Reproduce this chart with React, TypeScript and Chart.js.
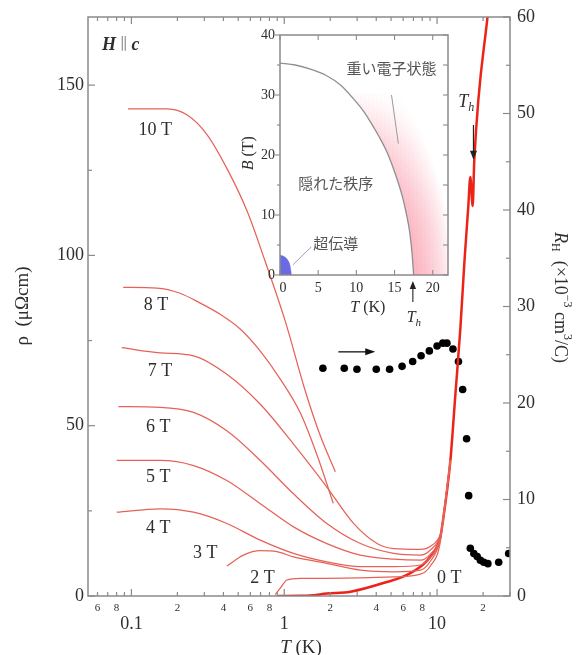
import React, { useEffect, useRef } from 'react';
import { Chart, registerables } from 'chart.js';
Chart.register(...registerables);

// ---------- data ----------
const T0 = [0.9, 1.3, 1.48, 1.9, 2.71, 4.45, 6.69, 9.04, 10.5, 10.78, 12.22, 13.18, 14.21, 15.1, 16.0, 16.5, 17.1, 17.5, 21.3, 22.0];
const rho0 = [0, 0.05, 0.15, 0.7, 1.26, 3.8, 6.7, 11.5, 17.3, 20.3, 39.8, 59.3, 78.7, 98.2, 114.3, 123.0, 114.5, 127.5, 169.4, 174.3];

const T2 = [0.873, 0.942, 1.04, 1.27, 1.9, 3.15, 5.2, 7.78, 9.04, 10.5, 10.78, 12.22];
const rho2 = [0.4, 2.3, 4.7, 5.2, 5.2, 5.3, 5.6, 6.4, 8.8, 15.8, 20.3, 39.8];

const T3 = [0.421, 0.541, 0.697, 0.896, 1.15, 1.9, 3.15, 5.2, 7.78, 9.04, 10.5, 10.78, 12.22];
const rho3 = [8.8, 12.0, 13.3, 13.0, 11.5, 9.6, 7.6, 7.1, 7.6, 10.2, 16.7, 20.3, 39.8];

const T4 = [0.0802, 0.154, 0.255, 0.421, 0.697, 1.15, 1.9, 3.15, 5.2, 7.78, 9.04, 10.5, 10.78, 12.22];
const rho4 = [24.6, 25.6, 24.6, 21.3, 16.4, 12.5, 10.0, 8.6, 8.6, 9.1, 11.4, 17.0, 20.3, 39.8];

const T5 = [0.0802, 0.154, 0.255, 0.421, 0.697, 1.15, 1.9, 3.15, 5.2, 7.78, 9.04, 10.5, 10.78, 12.22];
const rho5 = [39.8, 39.8, 38.3, 33.9, 27.1, 20.3, 15.4, 12.0, 10.8, 10.5, 12.3, 17.3, 20.3, 39.8];

const T6 = [0.0822, 0.154, 0.255, 0.421, 0.697, 1.15, 1.9, 3.15, 5.2, 7.78, 9.04, 10.5, 10.78, 12.22];
const rho6 = [55.6, 55.4, 53.9, 48.5, 39.8, 30.0, 21.3, 15.4, 12.5, 12.0, 13.5, 17.8, 20.3, 39.8];

const T7 = [0.0865, 0.154, 0.255, 0.421, 0.697, 1.15, 1.9, 2.84, 4.05, 5.2, 7.78, 9.04, 10.5, 10.78, 12.22];
const rho7 = [72.9, 71.4, 70.5, 65.1, 56.3, 44.6, 32.0, 21.3, 15.4, 13.9, 13.7, 14.6, 18.1, 20.3, 39.8];

const T8 = [0.0883, 0.147, 0.208, 0.282, 0.381, 0.515, 0.697, 0.942, 1.273, 1.645, 2.094];
const rho8 = [90.6, 90.4, 88.9, 86.0, 82.7, 78.4, 71.9, 63.7, 53.8, 41.2, 27.2];

const T10 = [0.095, 0.171, 0.232, 0.313, 0.423, 0.573, 0.751, 1.015, 1.373, 1.72, 2.158];
const rho10 = [143.0, 143.0, 141.2, 135.4, 125.4, 112.9, 98.2, 80.7, 60.2, 47.1, 36.5];

const TH = [1.79, 2.47, 2.99, 4.0, 4.89, 5.9, 6.92, 7.86, 8.9, 10.0, 10.9, 11.6, 12.7, 13.8, 14.7, 15.6, 16.1, 16.5, 17.4, 18.3, 19.2, 20.2, 21.5, 25.3, 29.4];
const RH = [23.6, 23.6, 23.5, 23.5, 23.5, 23.8, 24.3, 24.9, 25.4, 25.9, 26.2, 26.2, 25.6, 24.3, 21.4, 16.3, 10.4, 4.95, 4.4, 4.1, 3.7, 3.5, 3.35, 3.5, 4.4];

const fieldNames = ['0 T', '2 T', '3 T', '4 T', '5 T', '6 T', '7 T', '8 T', '10 T'];
const fieldLabelT = [12.0, 0.72, 0.304, 0.15, 0.15, 0.15, 0.154, 0.145, 0.143];
const fieldLabelRho = [5.3, 5.3, 12.6, 19.9, 34.8, 49.4, 66.1, 85.4, 136.8];

// ticks
const xMajorTicks = [0.1, 1, 10];
const xMajorLabels = ['0.1', '1', '10'];
const xMinorTicks = [0.06, 0.07, 0.08, 0.09, 0.2, 0.3, 0.4, 0.5, 0.6, 0.7, 0.8, 0.9, 2, 3, 4, 5, 6, 7, 8, 9, 20, 30];
const xMinorLabelVals = [0.06, 0.08, 0.2, 0.4, 0.6, 0.8, 2, 4, 6, 8, 20];
const xMinorLabels = ['6', '8', '2', '4', '6', '8', '2', '4', '6', '8', '2'];
const rhoMajorTicks = [0, 50, 100, 150];
const rhoMinorTicks = [25, 75, 125];
const rhMajorTicks = [0, 10, 20, 30, 40, 50, 60];
const rhMinorTicks = [5, 15, 25, 35, 45, 55];

// inset phase diagram
const insetT = [0, 2, 4, 6, 8, 10, 11, 12, 13, 14, 15, 16, 16.5, 17, 17.3, 17.5];
const insetB = [35.3, 35.0, 34.3, 33.3, 31.6, 28.8, 27.2, 25.2, 23.0, 20.5, 17.2, 13.2, 10.5, 7.0, 3.5, 0];
const scT = [0, 0.5, 1.0, 1.3, 1.5];
const scB = [3.3, 3.1, 2.5, 1.6, 0];
const insetXTicks = [0, 5, 10, 15, 20];
const insetYTicks = [0, 10, 20, 30, 40];
const insetYMinor = [5, 15, 25, 35];

// ---------- styles ----------
const SERIF = '"Liberation Serif", "DejaVu Serif", serif';
const CJK = '"Noto Sans CJK JP", "Noto Sans CJK SC", sans-serif';
const AXIS = '#8a8a8a';
const TEXT = '#2e2e2e';
const FIELD_RED = 'rgb(230,98,88)';
const ZERO_RED = 'rgb(236,36,24)';

type Part = { t: string; f: string; dy?: number; c?: string };
function rich(ctx: CanvasRenderingContext2D, parts: Part[], x: number, y: number, align = 'center') {
  let w = 0;
  for (const p of parts) { ctx.font = p.f; w += ctx.measureText(p.t).width; }
  let cx = align === 'center' ? x - w / 2 : align === 'right' ? x - w : x;
  ctx.textAlign = 'left';
  ctx.textBaseline = 'middle';
  for (const p of parts) {
    ctx.font = p.f;
    ctx.fillStyle = p.c || TEXT;
    ctx.fillText(p.t, cx, y + (p.dy || 0));
    cx += ctx.measureText(p.t).width;
  }
}

function seg(ctx: CanvasRenderingContext2D, x1: number, y1: number, x2: number, y2: number) {
  ctx.beginPath(); ctx.moveTo(x1, y1); ctx.lineTo(x2, y2); ctx.stroke();
}

function arrow(ctx: CanvasRenderingContext2D, x1: number, y1: number, x2: number, y2: number, head = 8, hw = 3.5) {
  const a = Math.atan2(y2 - y1, x2 - x1);
  seg(ctx, x1, y1, x2 - Math.cos(a) * head * 0.6, y2 - Math.sin(a) * head * 0.6);
  ctx.beginPath();
  ctx.moveTo(x2, y2);
  ctx.lineTo(x2 - Math.cos(a) * head - Math.sin(a) * hw, y2 - Math.sin(a) * head + Math.cos(a) * hw);
  ctx.lineTo(x2 - Math.cos(a) * head + Math.sin(a) * hw, y2 - Math.sin(a) * head - Math.cos(a) * hw);
  ctx.closePath();
  ctx.fill();
}

const pts = (xs: number[], ys: number[]) => xs.map((x, i) => ({ x, y: ys[i] }));

const mainDecor = {
  id: 'mainDecor',
  afterDraw(chart: any) {
    const ctx: CanvasRenderingContext2D = chart.ctx;
    const xs = chart.scales.x, ys = chart.scales.y, yr = chart.scales.y2;
    const { left, right, top, bottom } = chart.chartArea;
    ctx.save();
    ctx.strokeStyle = AXIS;
    ctx.lineWidth = 1.5;
    ctx.strokeRect(left, top, right - left, bottom - top);
    ctx.lineWidth = 1.2;
    xMajorTicks.forEach(v => { const p = xs.getPixelForValue(v); seg(ctx, p, bottom, p, bottom - 7); seg(ctx, p, top, p, top + 7); });
    xMinorTicks.forEach(v => { const p = xs.getPixelForValue(v); seg(ctx, p, bottom, p, bottom - 4); seg(ctx, p, top, p, top + 4); });
    rhoMajorTicks.forEach(v => { const p = ys.getPixelForValue(v); seg(ctx, left, p, left + 7, p); });
    rhoMinorTicks.forEach(v => { const p = ys.getPixelForValue(v); seg(ctx, left, p, left + 4, p); });
    rhMajorTicks.forEach(v => { const p = yr.getPixelForValue(v); seg(ctx, right, p, right - 7, p); });
    rhMinorTicks.forEach(v => { const p = yr.getPixelForValue(v); seg(ctx, right, p, right - 4, p); });

    // tick labels
    ctx.fillStyle = TEXT;
    ctx.textBaseline = 'middle';
    ctx.font = `18px ${SERIF}`;
    ctx.textAlign = 'right';
    rhoMajorTicks.forEach(v => ctx.fillText(String(v), left - 4, ys.getPixelForValue(v)));
    ctx.textAlign = 'left';
    rhMajorTicks.forEach(v => ctx.fillText(String(v), right + 7, yr.getPixelForValue(v)));
    ctx.textAlign = 'center';
    xMajorTicks.forEach((v, i) => ctx.fillText(xMajorLabels[i], xs.getPixelForValue(v), bottom + 28));
    ctx.font = `11px ${SERIF}`;
    xMinorLabelVals.forEach((v, i) => ctx.fillText(xMinorLabels[i], xs.getPixelForValue(v), bottom + 12));

    // axis titles
    rich(ctx, [{ t: 'T', f: `italic 19px ${SERIF}` }, { t: ' (K)', f: `19px ${SERIF}` }], (left + right) / 2 + 2, bottom + 52);
    ctx.save();
    ctx.translate(23, 306);
    ctx.rotate(-Math.PI / 2);
    rich(ctx, [{ t: 'ρ  (μΩcm)', f: `19px ${SERIF}` }], 0, 0);
    ctx.restore();
    ctx.save();
    ctx.translate(560, 232);
    ctx.rotate(Math.PI / 2);
    rich(ctx, [
      { t: 'R', f: `italic 18px ${SERIF}` },
      { t: 'H', f: `12px ${SERIF}`, dy: 5 },
      { t: '  (×10', f: `18px ${SERIF}` },
      { t: '−3', f: `12px ${SERIF}`, dy: -7 },
      { t: ' cm', f: `18px ${SERIF}` },
      { t: '3', f: `12px ${SERIF}`, dy: -7 },
      { t: '/C)', f: `18px ${SERIF}` },
    ], 0, 0, 'left');
    ctx.restore();

    // H || c
    rich(ctx, [
      { t: 'H', f: `bold italic 18px ${SERIF}` },
      { t: ' ∥ ', f: `16px ${SERIF}`, c: '#999' },
      { t: 'c', f: `bold italic 18px ${SERIF}` },
    ], 102, ys.getPixelForValue(161.7), 'left');

    // field labels
    fieldNames.forEach((n, i) => {
      rich(ctx, [{ t: n, f: `18px ${SERIF}` }], xs.getPixelForValue(fieldLabelT[i]), ys.getPixelForValue(fieldLabelRho[i]));
    });

    // T_h arrow and label
    ctx.strokeStyle = '#222';
    ctx.fillStyle = '#222';
    ctx.lineWidth = 1.2;
    const thx = xs.getPixelForValue(17.3);
    arrow(ctx, thx, ys.getPixelForValue(138.3), thx, ys.getPixelForValue(128.1), 9, 3.5);
    rich(ctx, [
      { t: 'T', f: `italic 18px ${SERIF}` },
      { t: 'h', f: `italic 12px ${SERIF}`, dy: 6 },
    ], xs.getPixelForValue(15.5), ys.getPixelForValue(145.0), 'center');

    // R_H arrow
    ctx.strokeStyle = '#111';
    ctx.fillStyle = '#111';
    ctx.lineWidth = 1.3;
    arrow(ctx, xs.getPixelForValue(2.26), yr.getPixelForValue(25.3), xs.getPixelForValue(3.94), yr.getPixelForValue(25.3), 10, 3.5);
    ctx.restore();
  },
};

const insetDecor = {
  id: 'insetDecor',
  beforeDatasetsDraw(chart: any) {
    const ctx: CanvasRenderingContext2D = chart.ctx;
    const ys = chart.scales.y;
    const { left, right, top, bottom } = chart.chartArea;
    const meta = chart.getDatasetMeta(0);
    const p = meta.data.map((e: any) => ({ x: e.x, y: e.y }));
    ctx.save();
    ctx.fillStyle = '#ffffff';
    ctx.fillRect(left, top, right - left, bottom - top);
    ctx.beginPath();
    ctx.moveTo(p[0].x, p[0].y);
    p.forEach((q: any) => ctx.lineTo(q.x, q.y));
    ctx.lineTo(right, bottom);
    ctx.lineTo(right, top);
    ctx.lineTo(left, top);
    ctx.closePath();
    ctx.clip();
    const g = ctx.createLinearGradient(0, ys.getPixelForValue(31), 0, bottom);
    g.addColorStop(0, 'rgba(245,130,150,0)');
    g.addColorStop(0.3, 'rgba(245,130,150,0.24)');
    g.addColorStop(0.7, 'rgba(245,130,150,0.45)');
    g.addColorStop(1, 'rgba(245,130,150,0.52)');
    ctx.strokeStyle = g;
    ctx.lineJoin = 'round';
    ctx.lineCap = 'round';
    for (let w = 6; w <= 80; w += 6) {
      ctx.lineWidth = w;
      ctx.globalAlpha = 0.13;
      ctx.beginPath();
      ctx.moveTo(p[0].x, p[0].y);
      p.forEach((q: any) => ctx.lineTo(q.x, q.y));
      ctx.lineTo(p[p.length - 1].x, bottom + 40);
      ctx.stroke();
    }
    ctx.restore();
  },
  afterDatasetsDraw(chart: any) {
    const ctx: CanvasRenderingContext2D = chart.ctx;
    const xs = chart.scales.x, ys = chart.scales.y;
    const { left, right, top, bottom } = chart.chartArea;
    ctx.save();
    ctx.strokeStyle = AXIS;
    ctx.lineWidth = 1.5;
    ctx.strokeRect(left, top, right - left, bottom - top);
    ctx.lineWidth = 1.1;
    insetYTicks.forEach(v => { const q = ys.getPixelForValue(v); seg(ctx, left, q, left - 5, q); seg(ctx, right, q, right - 5, q); });
    insetYMinor.forEach(v => { const q = ys.getPixelForValue(v); seg(ctx, left, q, left - 3, q); seg(ctx, right, q, right - 5, q); });
    insetXTicks.forEach(v => { const q = xs.getPixelForValue(v); seg(ctx, q, bottom, q, bottom - 5); seg(ctx, q, top, q, top + 5); });

    ctx.fillStyle = TEXT;
    ctx.font = `14px ${SERIF}`;
    ctx.textBaseline = 'middle';
    ctx.textAlign = 'right';
    insetYTicks.forEach(v => ctx.fillText(String(v), left - 5, ys.getPixelForValue(v)));
    ctx.textAlign = 'center';
    insetXTicks.forEach(v => ctx.fillText(String(v), xs.getPixelForValue(v) + (v === 0 ? 3 : 0), bottom + 13));

    rich(ctx, [{ t: 'T', f: `italic 16px ${SERIF}` }, { t: ' (K)', f: `16px ${SERIF}` }], xs.getPixelForValue(11.5), bottom + 33);
    ctx.save();
    ctx.translate(left - 31, ys.getPixelForValue(20.3));
    ctx.rotate(-Math.PI / 2);
    rich(ctx, [{ t: 'B', f: `italic 16px ${SERIF}` }, { t: ' (T)', f: `16px ${SERIF}` }], 0, 0);
    ctx.restore();

    // T_h arrow (inset)
    ctx.strokeStyle = '#222';
    ctx.fillStyle = '#222';
    ctx.lineWidth = 1.1;
    const tx = xs.getPixelForValue(17.4);
    arrow(ctx, tx, bottom + 27, tx, bottom + 6, 8, 3.2);
    rich(ctx, [
      { t: 'T', f: `italic 16px ${SERIF}` },
      { t: 'h', f: `italic 11px ${SERIF}`, dy: 5 },
    ], tx + 1, bottom + 43);

    // region labels
    ctx.strokeStyle = '#9a9a9a';
    ctx.lineWidth = 1;
    seg(ctx, xs.getPixelForValue(14.6), ys.getPixelForValue(30), xs.getPixelForValue(15.5), ys.getPixelForValue(21.9));
    ctx.strokeStyle = '#9aa0c8';
    seg(ctx, xs.getPixelForValue(4.1), ys.getPixelForValue(4.7), xs.getPixelForValue(1.7), ys.getPixelForValue(1.7));
    const cj = `15px ${CJK}`;
    rich(ctx, [{ t: '重い電子状態', f: cj, c: '#555' }], xs.getPixelForValue(14.6), ys.getPixelForValue(34.5));
    rich(ctx, [{ t: '隠れた秩序', f: cj, c: '#555' }], xs.getPixelForValue(7.3), ys.getPixelForValue(15.3));
    rich(ctx, [{ t: '超伝導', f: cj, c: '#555' }], xs.getPixelForValue(7.3), ys.getPixelForValue(5.3));
    ctx.restore();
  },
};

export default function App() {
  const mainRef = useRef<HTMLCanvasElement>(null);
  const insetRef = useRef<HTMLCanvasElement>(null);

  useEffect(() => {
    const fieldSets = [
      [T2, rho2], [T3, rho3], [T4, rho4], [T5, rho5], [T6, rho6], [T7, rho7], [T8, rho8], [T10, rho10],
    ].map(([t, r]) => ({
      data: pts(t as number[], r as number[]),
      borderColor: FIELD_RED,
      borderWidth: 1.25,
      pointRadius: 0,
      cubicInterpolationMode: 'monotone',
      fill: false,
      yAxisID: 'y',
    }));
    const main = new Chart(mainRef.current as HTMLCanvasElement, {
      type: 'line',
      data: {
        datasets: [
          ...fieldSets,
          {
            data: pts(T0, rho0),
            borderColor: ZERO_RED,
            borderWidth: 2.5,
            pointRadius: 0,
            cubicInterpolationMode: 'monotone',
            fill: false,
            yAxisID: 'y',
          },
          {
            data: pts(TH, RH),
            showLine: false,
            pointRadius: 3.8,
            pointBackgroundColor: '#000',
            pointBorderWidth: 0,
            borderColor: '#000',
            yAxisID: 'y2',
          },
        ] as any,
      },
      options: {
        responsive: false,
        animation: false,
        events: [],
        layout: { padding: { left: 88, right: 73, top: 17, bottom: 59 } },
        plugins: { legend: { display: false }, tooltip: { enabled: false } },
        scales: {
          x: { type: 'logarithmic', min: 0.052, max: 30, display: false },
          y: { type: 'linear', min: 0, max: 170, display: false },
          y2: { type: 'linear', min: 0, max: 60, display: false, position: 'right' },
        },
      } as any,
      plugins: [mainDecor],
    });

    const inset = new Chart(insetRef.current as HTMLCanvasElement, {
      type: 'line',
      data: {
        datasets: [
          {
            data: pts(insetT, insetB),
            borderColor: '#8f8f8f',
            borderWidth: 1.3,
            pointRadius: 0,
            cubicInterpolationMode: 'monotone',
            fill: false,
          },
          {
            data: pts(scT, scB),
            borderColor: 'rgba(80,80,220,0.9)',
            backgroundColor: 'rgba(80,80,225,0.85)',
            borderWidth: 0.5,
            pointRadius: 0,
            cubicInterpolationMode: 'monotone',
            fill: 'origin',
          },
        ] as any,
      },
      options: {
        responsive: false,
        animation: false,
        events: [],
        layout: { padding: { left: 280, right: 135, top: 35, bottom: 380 } },
        plugins: { legend: { display: false }, tooltip: { enabled: false } },
        scales: {
          x: { type: 'linear', min: 0, max: 22, display: false },
          y: { type: 'linear', min: 0, max: 40, display: false },
        },
      } as any,
      plugins: [insetDecor],
    });

    return () => {
      main.destroy();
      inset.destroy();
    };
  }, []);

  return (
    <div style={{ position: 'fixed', left: 0, top: 0, width: 583, height: 655, background: '#fff', overflow: 'hidden' }}>
      <canvas ref={mainRef} width={583} height={655} style={{ position: 'absolute', left: 0, top: 0 }} />
      <canvas ref={insetRef} width={583} height={655} style={{ position: 'absolute', left: 0, top: 0, pointerEvents: 'none' }} />
    </div>
  );
}
